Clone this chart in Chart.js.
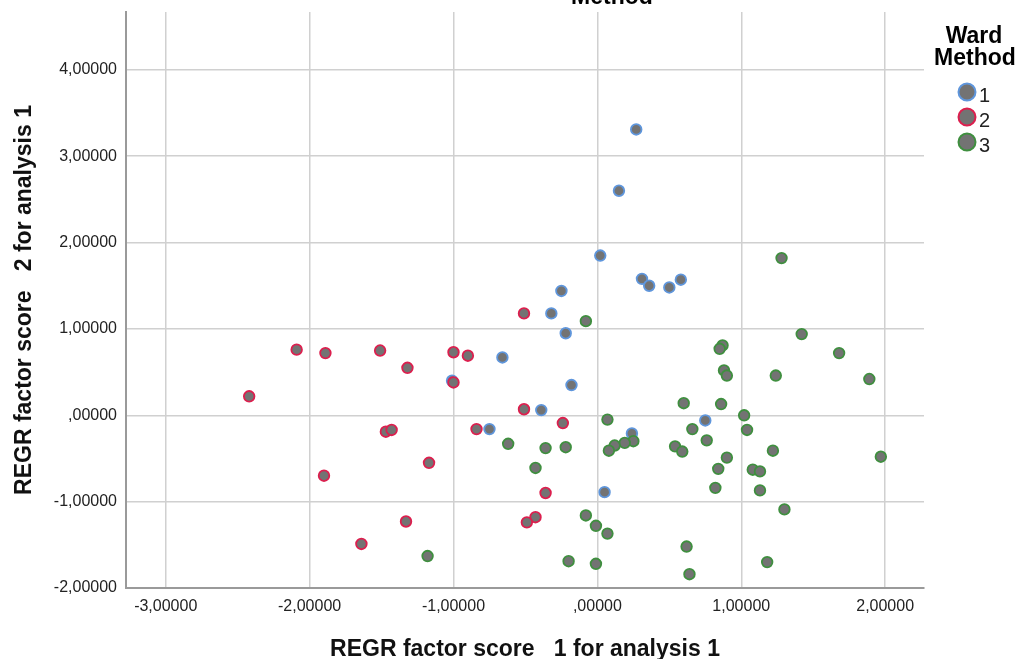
<!DOCTYPE html>
<html>
<head>
<meta charset="utf-8">
<script src="https://cdn.jsdelivr.net/npm/chart.js@4.4.1/dist/chart.umd.min.js"></script>
<style>
body{margin:0;background:#fff;}
#caja{width:1018px;height:659px;position:relative;}
</style>
</head>
<body>
<div id="caja"><canvas id="grafica"></canvas></div>
<script>
// datos leidos a ojo del grafico de SPSS (scores de regresion por cluster de Ward)
const grupos = ['1', '2', '3'];
const grupo1X = [0.27, 0.15, 0.02, 0.31, 0.36, 0.50, 0.58, -0.25, -0.32, -0.22, -0.66, -1.01, -0.18, -0.39, -0.75, 0.24, 0.75, 0.05];
const grupo1Y = [3.31, 2.60, 1.85, 1.58, 1.50, 1.48, 1.57, 1.44, 1.18, 0.95, 0.67, 0.40, 0.35, 0.06, -0.16, -0.21, -0.06, -0.89];
const grupo2X = [-2.42, -2.09, -1.89, -1.51, -1.00, -0.90, -1.32, -1.00, -0.51, -0.51, -0.24, -0.84, -1.47, -1.43, -1.17, -1.90, -0.36, -0.43, -0.49, -1.33, -1.64];
const grupo2Y = [0.22, 0.76, 0.72, 0.75, 0.73, 0.69, 0.55, 0.38, 1.18, 0.07, -0.09, -0.16, -0.19, -0.17, -0.55, -0.70, -0.90, -1.18, -1.24, -1.23, -1.49];
const grupo3X = [-0.08, 1.28, 1.42, 1.68, 1.89, 0.87, 0.85, 0.88, 0.90, 1.24, 0.60, 0.86, 1.02, 0.07, 1.04, 0.66, 0.76, 0.25, 0.19, 0.12, 0.08, -0.62, -0.36, -0.22, -0.43, 0.54, 0.59, 0.90, 1.22, 1.97, 0.84, 1.08, 1.13, 0.82, 1.13, 1.30, -0.08, -0.01, 0.07, -1.18, -0.20, -0.01, 0.62, 0.64, 1.18];
const grupo3Y = [1.09, 1.82, 0.94, 0.72, 0.42, 0.81, 0.77, 0.52, 0.46, 0.46, 0.14, 0.13, 0.00, -0.05, -0.17, -0.16, -0.29, -0.30, -0.32, -0.35, -0.41, -0.33, -0.38, -0.37, -0.61, -0.36, -0.42, -0.49, -0.41, -0.48, -0.62, -0.63, -0.65, -0.84, -0.87, -1.09, -1.16, -1.28, -1.37, -1.63, -1.69, -1.72, -1.52, -1.84, -1.70];
// ticks de los ejes
const ticksX = [-3, -2, -1, 0, 1, 2];
const ticksY = [-2, -1, 0, 1, 2, 3, 4];

const tituloX = 'REGR factor score   1 for analysis 1';
const tituloY = 'REGR factor score   2 for analysis 1';
const tituloLeyenda = ['Ward', 'Method'];

const colores = ['#5f96dc', '#dc1f4e', '#3f8f3f'];
const relleno = '#737373';
const fuente = '"Liberation Sans", Arial, sans-serif';

Chart.defaults.font.family = fuente;

function juntar(xs, ys){
  return xs.map((x, i) => ({x: x, y: ys[i]}));
}

// formato tipo SPSS: coma decimal y sin el cero delante
function formatoSPSS(v){
  let s = v.toFixed(5).replace('.', ',');
  if (s.startsWith('0,')) s = s.substring(1);
  return s;
}

// la leyenda y el trozo de titulo los pinto a mano
const leyendaWard = {
  id: 'leyendaWard',
  afterDraw(chart){
    const ctx = chart.ctx;
    ctx.save();
    ctx.fillStyle = '#000';
    ctx.textAlign = 'center';
    ctx.textBaseline = 'alphabetic';
    ctx.font = 'bold 23px ' + fuente;
    ctx.fillText('Method', 612, 4); // titulo cortado arriba
    ctx.fillText(tituloLeyenda[0], 974, 43);
    ctx.fillText(tituloLeyenda[1], 975, 65);

    ctx.textAlign = 'left';
    ctx.font = '20px ' + fuente;
    chart.data.datasets.forEach((ds, i) => {
      const y = 92 + i * 25;
      ctx.beginPath();
      ctx.arc(967, y, 8.5, 0, Math.PI * 2);
      ctx.fillStyle = ds.backgroundColor;
      ctx.fill();
      ctx.lineWidth = 2;
      ctx.strokeStyle = ds.borderColor;
      ctx.stroke();
      ctx.fillStyle = '#222';
      ctx.fillText(ds.label, 979, y + 9.5);
    });
    ctx.restore();
  }
};

// sin el relleno que mete chart.js por las etiquetas de los ticks
function sinRelleno(eje){
  eje.paddingTop = 0;
  eje.paddingBottom = 0;
  eje.paddingLeft = 0;
  eje.paddingRight = 0;
}

const grafica = new Chart(document.getElementById('grafica'), {
  type: 'scatter',
  data: {
    datasets: [
      {label: grupos[0], data: juntar(grupo1X, grupo1Y), order: 3},
      {label: grupos[1], data: juntar(grupo2X, grupo2Y), order: 2},
      {label: grupos[2], data: juntar(grupo3X, grupo3Y), order: 1}
    ].map((ds, i) => Object.assign(ds, {
      backgroundColor: relleno,
      borderColor: colores[i],
      borderWidth: 1.8,
      pointRadius: 5.3,
      pointHoverRadius: 5.3
    }))
  },
  options: {
    responsive: true,
    maintainAspectRatio: false,
    animation: false,
    layout: {padding: {top: 12, right: 94, left: 0, bottom: 0}},
    plugins: {
      legend: {display: false},
      tooltip: {enabled: false}
    },
    scales: {
      x: {
        type: 'linear',
        min: -3.276,
        max: 2.27,
        afterBuildTicks: (eje) => { eje.ticks = ticksX.map(v => ({value: v})); },
        afterFit: (eje) => { eje.height = 71; sinRelleno(eje); },
        grid: {color: '#d0d0d0', lineWidth: 1.5, drawTicks: false},
        border: {color: '#9a9a9a', width: 2},
        ticks: {
          padding: 9,
          color: '#222',
          font: {size: 16},
          maxRotation: 0,
          callback: (v) => formatoSPSS(v)
        },
        title: {
          display: true,
          text: tituloX,
          color: '#111',
          font: {size: 23, weight: 'bold', lineHeight: 1},
          padding: {top: 0, bottom: -2}
        }
      },
      y: {
        type: 'linear',
        min: -2,
        max: 4.67,
        afterBuildTicks: (eje) => { eje.ticks = ticksY.map(v => ({value: v})); },
        afterFit: (eje) => { eje.width = 126; sinRelleno(eje); },
        grid: {color: '#d0d0d0', lineWidth: 1.5, drawTicks: false},
        border: {color: '#9a9a9a', width: 2},
        ticks: {
          padding: 9,
          color: '#222',
          font: {size: 16},
          callback: (v) => formatoSPSS(v)
        },
        title: {
          display: true,
          text: tituloY,
          color: '#111',
          font: {size: 23, weight: 'bold', lineHeight: 1},
          padding: {top: 13, bottom: 0}
        }
      }
    }
  },
  plugins: [leyendaWard]
});
</script>
</body>
</html>
